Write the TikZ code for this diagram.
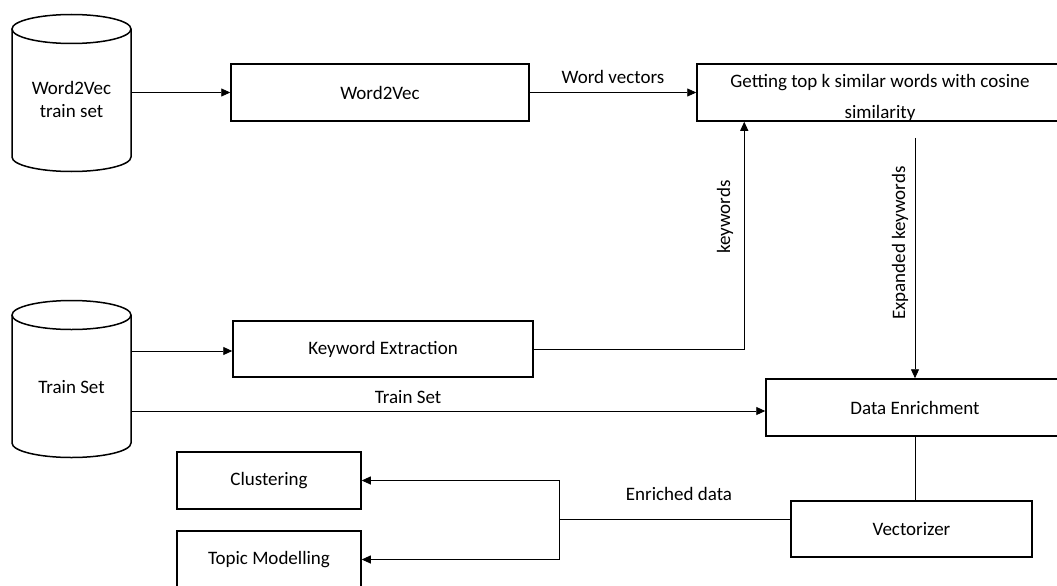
\documentclass[tikz,border=0pt]{standalone}
\usepackage{fontspec}
\setmainfont{Carlito}
\usetikzlibrary{arrows.meta}
\begin{document}
\begin{tikzpicture}[x=1pt,y=-1pt,
  box/.style={draw, line width=1.5pt, inner sep=0pt, align=center, font=\fontsize{19pt}{23pt}\selectfont},
  txt/.style={inner sep=0pt, align=center, font=\fontsize{19pt}{23pt}\selectfont},
  conn/.style={line width=0.9pt},
  arr/.style={conn, -{Triangle[length=9pt,width=8pt]}},
  cyl/.style={line width=1.5pt}
]
\useasboundingbox (0,0) rectangle (1057,586);
\clip (0,0) rectangle (1057,586);

% cylinders
\draw[cyl] (12,29) -- (12,157) arc[start angle=180, end angle=360, x radius=59.5pt, y radius=14.5pt] -- (131,29);
\draw[cyl] (71.5,29) ellipse [x radius=59.5pt, y radius=14.5pt];
\node[txt, minimum width=119pt] (c1) at (71.5,99.5) {Word2Vec\\train set};

\draw[cyl] (12,315) -- (12,443) arc[start angle=180, end angle=360, x radius=59.5pt, y radius=14.5pt] -- (131,315);
\draw[cyl] (71.5,315) ellipse [x radius=59.5pt, y radius=14.5pt];
\node[txt, minimum width=119pt] (c2) at (71.5,387) {Train Set};

% boxes
\node[box, minimum width=298pt, minimum height=57pt] (w2v) at (380,92.5) {Word2Vec};
\node[box, minimum width=366pt, minimum height=57pt] (gt) at (880,92.5) {};
\node[txt, font=\fontsize{19pt}{31pt}\selectfont] (gtl) at ([yshift=-5pt]gt.center) {Getting top k similar words with cosine\\similarity};
\node[box, minimum width=300pt, minimum height=56pt] (ke) at (383,349) {Keyword Extraction};
\node[box, minimum width=298pt, minimum height=57pt] (de) at (915,407.5) {Data Enrichment};
\node[box, minimum width=241pt, minimum height=56pt] (vec) at (911.5,529) {Vectorizer};
\node[box, minimum width=184pt, minimum height=57pt] (cl) at (269,480.5) {Clustering};
\node[box, minimum width=184pt, minimum height=57pt] (tm) at (269,559.5) {Topic Modelling};

% connectors
\draw[arr] (c1.east |- w2v.west) -- (w2v.west);
\draw[arr] (w2v.east) -- node[txt, above=8pt] {Word vectors} (gt.west);
\draw[arr] (ke.east) -| ([xshift=48pt]gt.south west);
\node[txt, rotate=90] (kwl) at (725,217) {keywords};
\draw[arr] ([yshift=-16pt]gt.south -| de.north) -- (de.north);
\node[txt, rotate=90] (ekl) at (900,243) {Expanded keywords};
\draw[arr] ([yshift=36pt]c2.east) -- ([yshift=36pt]c2.east -| ke.west);
\draw[arr] ([yshift=-24pt]c2.east) -- ([yshift=-24pt]c2.east -| de.west);
\node[txt] (tsl) at (408,397) {Train Set};
\draw[conn] (de.south) -- (de.south |- vec.north);
\coordinate (split) at (559,519);
\draw[conn] ([yshift=10pt]vec.west) -- (split);
\draw[arr] (split) |- (cl.east);
\draw[arr] (split) |- (tm.east);
\node[txt] (edl) at (679,494) {Enriched data};
\end{tikzpicture}
\end{document}
